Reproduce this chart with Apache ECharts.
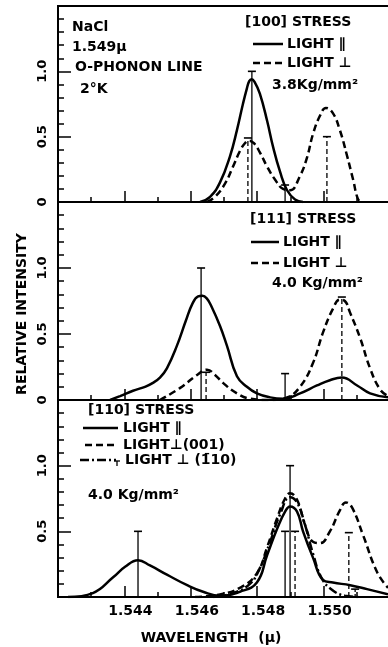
<!DOCTYPE html>
<html><head><meta charset="utf-8">
<script src="https://cdn.jsdelivr.net/npm/echarts@6/dist/echarts.min.js"></script>
<style>html,body{margin:0;padding:0;background:#fff}#c{width:388px;height:647px}</style>
</head><body><div id="c"></div>
<script>
// ---------- DATA (wavelength in microns, relative intensity) ----------
const xTickLabels = ['1.544', '1.546', '1.548', '1.550'];
const yTickLabels = ['0', '0.5', '1.0'];

// [100] stress panel
const topPar = [[1.54628,0],[1.54658,0.04],[1.54688,0.15],[1.54718,0.35],[1.54739,0.55],[1.54757,0.75],[1.54769,0.87],[1.54776,0.925],[1.54783,0.94],[1.54792,0.92],[1.54808,0.83],[1.54830,0.62],[1.54848,0.42],[1.54869,0.23],[1.54890,0.09],[1.54914,0.02],[1.54938,0]];
const topPerp = [[1.54649,0],[1.54673,0.04],[1.54703,0.14],[1.54727,0.27],[1.54748,0.39],[1.54763,0.45],[1.54775,0.47],[1.54790,0.45],[1.54808,0.38],[1.54830,0.27],[1.54854,0.17],[1.54878,0.10],[1.54899,0.09],[1.54929,0.20],[1.54950,0.34],[1.54968,0.52],[1.54989,0.66],[1.55007,0.72],[1.55028,0.68],[1.55049,0.55],[1.55070,0.36],[1.55089,0.17],[1.55104,0.02],[1.55116,0]];
const topSticksSolid = [[1.54784,1.0],[1.54884,0.13]];
const topSticksDashed = [[1.54772,0.49],[1.55010,0.50]];

// [111] stress panel
const midPar = [[1.54357,0],[1.54387,0.03],[1.54426,0.07],[1.54462,0.10],[1.54486,0.13],[1.54507,0.17],[1.54528,0.24],[1.54558,0.41],[1.54585,0.60],[1.54605,0.73],[1.54622,0.785],[1.54635,0.79],[1.54648,0.77],[1.54662,0.71],[1.54688,0.56],[1.54709,0.41],[1.54739,0.18],[1.54769,0.10],[1.54799,0.05],[1.54839,0.02],[1.54878,0.01],[1.54929,0.05],[1.54980,0.11],[1.55019,0.15],[1.55055,0.17],[1.55101,0.11],[1.55140,0.05],[1.55194,0.02]];
const midPerp = [[1.54507,0],[1.54567,0.09],[1.54619,0.19],[1.54649,0.23],[1.54673,0.19],[1.54697,0.13],[1.54739,0.05],[1.54778,0.01],[1.54839,0],[1.54890,0.02],[1.54929,0.10],[1.54968,0.28],[1.54998,0.51],[1.55028,0.69],[1.55049,0.76],[1.55064,0.75],[1.55080,0.66],[1.55110,0.47],[1.55140,0.24],[1.55170,0.08],[1.55194,0.03]];
const midSticksSolid = [[1.54631,1.0],[1.54884,0.20]];
const midSticksDashed = [[1.54646,0.21],[1.55055,0.78]];

// [110] stress panel
const botPar = [[1.54230,0],[1.54305,0.03],[1.54366,0.15],[1.54402,0.23],[1.54441,0.28],[1.54477,0.24],[1.54528,0.17],[1.54589,0.09],[1.54637,0.04],[1.54688,0.01],[1.54748,0.04],[1.54799,0.11],[1.54830,0.32],[1.54860,0.52],[1.54884,0.65],[1.54899,0.69],[1.54920,0.65],[1.54938,0.50],[1.54968,0.30],[1.54998,0.13],[1.55028,0.11],[1.55080,0.09],[1.55131,0.06],[1.55194,0.02]];
const botPerp001 = [[1.54613,0],[1.54688,0.02],[1.54748,0.07],[1.54799,0.18],[1.54830,0.38],[1.54860,0.60],[1.54884,0.75],[1.54899,0.79],[1.54920,0.74],[1.54944,0.55],[1.54968,0.42],[1.54989,0.41],[1.55019,0.50],[1.55049,0.66],[1.55067,0.72],[1.55086,0.68],[1.55119,0.47],[1.55161,0.19],[1.55194,0.07]];
const botPerp110 = [[1.54667,0],[1.54727,0.03],[1.54778,0.10],[1.54808,0.22],[1.54839,0.42],[1.54869,0.63],[1.54899,0.76],[1.54920,0.72],[1.54944,0.55],[1.54968,0.33],[1.54995,0.14],[1.55028,0.05],[1.55064,0.01],[1.55110,0]];
const botSticksSolid = [[1.54441,0.50],[1.54899,1.0],[1.54884,0.50]];
const botSticksDashed = [[1.54914,0.50],[1.55076,0.49]];
const botSticksDashDot = [[1.55095,0.06]];

// ---------- STYLE ----------
const FONT = 'DejaVu Sans';
const DASH = [7, 4];
const DASHDOT = [9, 3, 2, 3];

const grids = [
  {left: 58, width: 332, top: 6, height: 196},
  {left: 58, width: 332, top: 202, height: 198},
  {left: 58, width: 332, top: 400, height: 197}
].map(g => Object.assign(g, {show: true, borderColor: '#000', borderWidth: 2, backgroundColor: 'transparent', outerBoundsMode: 'none', containLabel: false}));

function xAxis(i) {
  return {
    gridIndex: i, type: 'value', min: 1.542, max: 1.552, interval: 0.002,
    axisLine: {show: true, lineStyle: {color: '#000', width: 2}},
    axisTick: {show: true, inside: true, length: 11, lineStyle: {color: '#000', width: 1.5}},
    minorTick: {show: true, splitNumber: 2, length: 5, lineStyle: {color: '#000', width: 1.5}},
    splitLine: {show: false}, minorSplitLine: {show: false},
    axisLabel: {
      show: i === 2, margin: 7, padding: [0, 0, 0, 12], color: '#000', fontFamily: FONT, fontWeight: 'bold', fontSize: 14,
      formatter: v => { const s = v.toFixed(3); return xTickLabels.includes(s) ? s : ''; }
    }
  };
}
function yAxis(i) {
  return {
    gridIndex: i, type: 'value', min: 0, max: 1.5, interval: 0.5,
    axisLine: {show: true, lineStyle: {color: '#000', width: 2}},
    axisTick: {show: true, inside: true, length: 13, lineStyle: {color: '#000', width: 1.5}},
    minorTick: {show: true, splitNumber: 5, length: 6, lineStyle: {color: '#000', width: 1.5}},
    splitLine: {show: false}, minorSplitLine: {show: false},
    axisLabel: {
      show: true, rotate: 90, margin: 9, color: '#000', fontFamily: FONT, fontWeight: 'bold', fontSize: 13,
      formatter: v => {
        const s = v === 0 ? '0' : v.toFixed(1);
        if (i === 2 && s === '0') return '';
        return yTickLabels.includes(s) ? s : '';
      }
    }
  };
}

function curve(data, i, dash) {
  return {
    type: 'line', xAxisIndex: i, yAxisIndex: i, data: data, smooth: 0.45,
    showSymbol: false, symbol: 'none', silent: true, animation: false,
    lineStyle: {color: '#000', width: 2.5, type: dash || 'solid', cap: 'butt'}
  };
}
function sticks(data, i, dash) {
  return {
    type: 'custom', xAxisIndex: i, yAxisIndex: i, data: data, silent: true, animation: false,
    renderItem: (params, api) => {
      const x = api.value(0), h = api.value(1);
      const p0 = api.coord([x, 0]), p1 = api.coord([x, h]);
      return {type: 'group', children: [
        {type: 'line', shape: {x1: p0[0], y1: p0[1], x2: p1[0], y2: p1[1]},
         style: {stroke: '#000', lineWidth: 1.3, lineDash: dash || null}},
        {type: 'line', shape: {x1: p1[0] - 4, y1: p1[1], x2: p1[0] + 4, y2: p1[1]},
         style: {stroke: '#000', lineWidth: 1.6}}
      ]};
    }
  };
}

function T(x, y, s, size) {
  return {type: 'text', x: x, y: y, silent: true,
    style: {text: s, fill: '#000', fontFamily: FONT, fontWeight: 'bold', fontSize: size || 14, align: 'left', verticalAlign: 'middle'}};
}
function L(x1, x2, y, dash) {
  return {type: 'line', silent: true, shape: {x1: x1, y1: y, x2: x2, y2: y},
    style: {stroke: '#000', lineWidth: 2.5, lineDash: dash || null}};
}

const graphics = [
  // top-left annotation
  T(72, 27, 'NaCl'), T(72, 47, '1.549\u03bc'), T(75, 67, 'O-PHONON LINE'), T(80, 89, '2\u00b0K'),
  // [100]
  T(245, 22, '[100] STRESS'),
  L(253, 283, 44), T(287, 44, 'LIGHT \u2225'),
  L(253, 283, 63, DASH), T(287, 63, 'LIGHT \u22a5'),
  T(272, 85, '3.8Kg/mm\u00b2'),
  // [111]
  T(250, 219, '[111] STRESS'),
  L(251, 279, 242), T(283, 242, 'LIGHT \u2225'),
  L(251, 279, 263, DASH), T(283, 263, 'LIGHT \u22a5'),
  T(272, 283, '4.0 Kg/mm\u00b2'),
  // [110]
  T(88, 410, '[110] STRESS'),
  L(83, 118, 428), T(123, 428, 'LIGHT \u2225'),
  L(85, 118, 445, DASH), T(123, 445, 'LIGHT\u22a5(001)'),
  L(80, 116, 460, DASHDOT),
  {type: 'line', silent: true, shape: {x1: 114, y1: 461, x2: 120, y2: 461}, style: {stroke: '#000', lineWidth: 1.3}},
  {type: 'line', silent: true, shape: {x1: 117, y1: 461, x2: 117, y2: 466}, style: {stroke: '#000', lineWidth: 1.3}},
  T(125, 460, 'LIGHT \u22a5 (1\u030410)'),
  T(88, 495, '4.0 Kg/mm\u00b2'),
  // axis titles
  {type: 'text', x: 22, y: 314, rotation: Math.PI / 2, silent: true,
   style: {text: 'RELATIVE INTENSITY', fill: '#000', fontFamily: FONT, fontWeight: 'bold', fontSize: 14, align: 'center', verticalAlign: 'middle'}},
  {type: 'text', x: 211, y: 638, silent: true,
   style: {text: 'WAVELENGTH  (\u03bc)', fill: '#000', fontFamily: FONT, fontWeight: 'bold', fontSize: 14, align: 'center', verticalAlign: 'middle'}}
];

const chart = echarts.init(document.getElementById('c'), null, {renderer: 'canvas'});
chart.setOption({
  backgroundColor: '#fff',
  animation: false,
  grid: grids,
  xAxis: [0, 1, 2].map(xAxis),
  yAxis: [0, 1, 2].map(yAxis),
  graphic: graphics,
  series: [
    curve(topPar, 0), curve(topPerp, 0, DASH),
    sticks(topSticksSolid, 0), sticks(topSticksDashed, 0, [5, 3]),
    curve(midPar, 1), curve(midPerp, 1, DASH),
    sticks(midSticksSolid, 1), sticks(midSticksDashed, 1, [5, 3]),
    curve(botPar, 2), curve(botPerp001, 2, DASH), curve(botPerp110, 2, DASHDOT),
    sticks(botSticksSolid, 2), sticks(botSticksDashed, 2, [5, 3]), sticks(botSticksDashDot, 2, [3, 2])
  ]
});
</script></body></html>
